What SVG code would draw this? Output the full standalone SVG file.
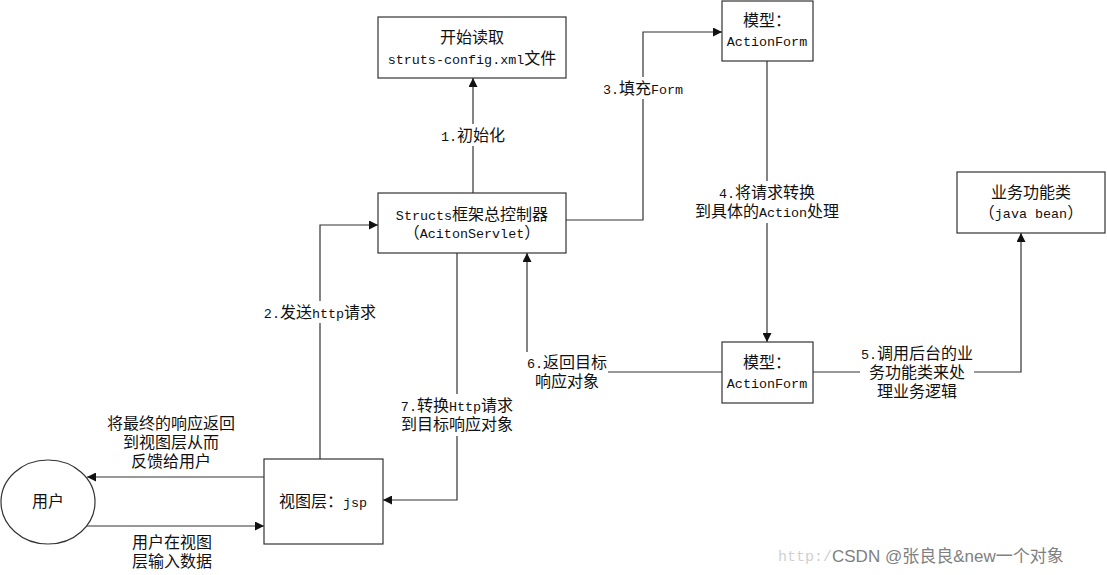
<svg xmlns="http://www.w3.org/2000/svg" width="1107" height="575" viewBox="0 0 1107 575">
<style>
.box{fill:#fff;stroke:#333;stroke-width:1.2}
.ln{fill:none;stroke:#333;stroke-width:1.2}
text{font-family:"Noto Sans CJK SC","Liberation Sans",sans-serif;font-size:16px;fill:#111;text-anchor:middle}
.m{font-family:"Liberation Mono","Noto Sans CJK SC",monospace;font-size:13.4px}
.bg{fill:#fff}
.wm{font-family:"Liberation Sans","Noto Sans CJK SC",sans-serif;font-size:17px;fill:#808080;text-anchor:start}
.wm2{font-family:"Liberation Mono",monospace;font-size:15px;fill:#d0d0d0;text-anchor:start}
</style>
<defs>
<marker id="ah" viewBox="0 0 10 10" refX="10" refY="5" markerWidth="9" markerHeight="9" markerUnits="userSpaceOnUse" orient="auto">
<path d="M0,0 L10,5 L0,10 z" fill="#111"/>
</marker>
</defs>
<rect width="1107" height="575" fill="#fff"/>
<g id="connectors">
<path class="ln" d="M473,193 V78" marker-end="url(#ah)"/>
<path class="ln" d="M320,459 V225 H378" marker-end="url(#ah)"/>
<path class="ln" d="M566,220 H643 V32 H722" marker-end="url(#ah)"/>
<path class="ln" d="M767,61 V342" marker-end="url(#ah)"/>
<path class="ln" d="M813,372 H1021 V233" marker-end="url(#ah)"/>
<path class="ln" d="M722,372 H527 V253" marker-end="url(#ah)"/>
<path class="ln" d="M457,253 V500 H383" marker-end="url(#ah)"/>
<path class="ln" d="M264,477 H87" marker-end="url(#ah)"/>
<path class="ln" d="M87,526 H264" marker-end="url(#ah)"/>
<rect class="bg" x="440" y="124" width="66" height="22"/>
<text x="473" y="141"><tspan class="m">1.</tspan>初始化</text>
<rect class="bg" x="602" y="77" width="82" height="22"/>
<text x="643" y="94"><tspan class="m">3.</tspan>填充<tspan class="m">Form</tspan></text>
<rect class="bg" x="263" y="301" width="114" height="22"/>
<text x="320" y="318"><tspan class="m">2.</tspan>发送<tspan class="m">http</tspan>请求</text>
<rect class="bg" x="694" y="181" width="146" height="42"/>
<text x="767" y="198"><tspan class="m">4.</tspan>将请求转换</text>
<text x="767" y="217">到具体的<tspan class="m">Action</tspan>处理</text>
<rect class="bg" x="400" y="394" width="114" height="42"/>
<text x="457" y="411"><tspan class="m">7.</tspan>转换<tspan class="m">Http</tspan>请求</text>
<text x="457" y="430">到目标响应对象</text>
<rect class="bg" x="526" y="352" width="82" height="42"/>
<text x="567" y="368"><tspan class="m">6.</tspan>返回目标</text>
<text x="567" y="387">响应对象</text>
<rect class="bg" x="860" y="342" width="114" height="60"/>
<text x="917" y="359"><tspan class="m">5.</tspan>调用后台的业</text>
<text x="917" y="378">务功能类来处</text>
<text x="917" y="397">理业务逻辑</text>
<text x="171" y="429">将最终的响应返回</text>
<text x="171" y="448">到视图层从而</text>
<text x="171" y="467">反馈给用户</text>
<text x="172" y="548">用户在视图</text>
<text x="172" y="567">层输入数据</text>
</g>
<g id="node-config">
<rect class="box" x="378" y="17" width="188" height="61"/>
<text x="472" y="43">开始读取</text>
<text x="472" y="64"><tspan class="m">struts-config.xml</tspan>文件</text>
</g>
<g id="node-model-top">
<rect class="box" x="722" y="1" width="91" height="60"/>
<text x="767" y="26">模型：</text>
<text x="767" y="46"><tspan class="m">ActionForm</tspan></text>
</g>
<g id="node-controller">
<rect class="box" x="378" y="193" width="188" height="60"/>
<text x="472" y="220"><tspan class="m">Structs</tspan>框架总控制器</text>
<text x="472" y="238">（<tspan class="m">AcitonServlet</tspan>）</text>
</g>
<g id="node-business">
<rect class="box" x="957" y="172" width="148" height="61"/>
<text x="1031" y="198">业务功能类</text>
<text x="1031" y="218">（<tspan class="m">java bean</tspan>）</text>
</g>
<g id="node-model-bottom">
<rect class="box" x="722" y="342" width="91" height="61"/>
<text x="767" y="368">模型：</text>
<text x="767" y="388"><tspan class="m">ActionForm</tspan></text>
</g>
<g id="node-jsp">
<rect class="box" x="264" y="459" width="119" height="85"/>
<text x="323" y="507">视图层：<tspan class="m">jsp</tspan></text>
</g>
<g id="node-user">
<ellipse class="box" cx="48" cy="502" rx="47" ry="42"/>
<text x="48" y="507">用户</text>
</g>
<text class="wm2" x="778" y="561">http:/</text>
<text class="wm" x="832" y="562">CSDN @张良良&amp;new一个对象</text>
</svg>
